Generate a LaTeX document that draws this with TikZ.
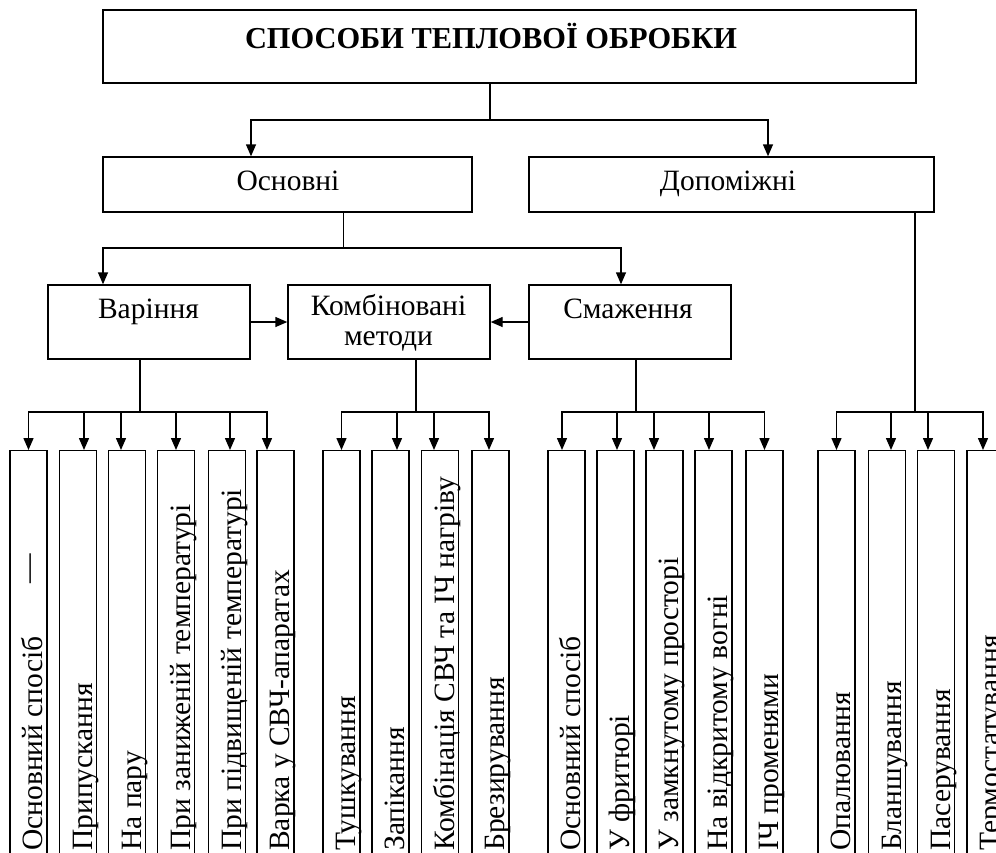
\documentclass[tikz,border=0pt]{standalone}
\usepackage{fontspec}
\setmainfont{Liberation Serif}
\newfontfamily\timesfont{Liberation Serif}
\usetikzlibrary{arrows.meta}
\begin{document}
\begin{tikzpicture}[x=1pt,y=-1pt,
  line width=1.4pt,
  box/.style={draw, line width=1.4pt, inner sep=0pt},
  arr/.style={-{Triangle[length=12pt,width=10pt]}},
  lbl/.style={font=\timesfont\fontsize{29.5}{34}\selectfont, inner sep=0pt, anchor=base},
  leaf/.style={box, minimum width=37pt, minimum height=420pt, anchor=north},
  leaftext/.style={font=\timesfont\fontsize{29.5}{34}\selectfont, inner sep=0pt, rotate=90, anchor=base west},
]
\useasboundingbox (0,0) rectangle (996,852);
\clip (0,0) rectangle (996,852);

% ---- upper levels ----
\node[box, minimum width=813pt, minimum height=73pt] (top) at (509.5,46.5) {};
\node[lbl, font=\timesfont\bfseries\fontsize{30.4}{36}\selectfont] (toptxt) at (491,48.5) {СПОСОБИ ТЕПЛОВОЇ ОБРОБКИ};

\node[box, minimum width=369pt, minimum height=55pt] (osn) at (287.5,184.5) {};
\node[lbl] (osntxt) at (288,190) {Основні};
\node[box, minimum width=405pt, minimum height=55pt] (dop) at (731.5,184.5) {};
\node[lbl] (doptxt) at (728,190) {Допоміжні};

\node[box, minimum width=202pt, minimum height=74pt] (var) at (149,322) {};
\node[lbl] (vartxt) at (148.5,318) {Варіння};
\node[box, minimum width=202pt, minimum height=74pt] (komb) at (389,322) {};
\node[lbl] (kombtxt1) at (388.5,315) {Комбіновані};
\node[lbl] (kombtxt2) at (388.5,345) {методи};
\node[box, minimum width=202pt, minimum height=74pt] (smaz) at (630,322) {};
\node[lbl] (smaztxt) at (628,318) {Смаження};

% ---- upper connectors ----
\coordinate (j0) at (490,120);
\draw (top.south -| j0) -- (j0);
\draw[arr] (j0) -| ([xshift=-36.5pt]osn.north);
\draw[arr] (j0) -| ([xshift=36.5pt]dop.north);

\coordinate (j1) at (343.5,248);
\draw (osn.south -| j1) -- (j1);
\draw[arr] (j1) -| ([xshift=-46pt]var.north);
\draw[arr] (j1) -| ([xshift=-9pt]smaz.north);

\draw[arr] (var.east) -- (komb.west);
\draw[arr] (smaz.west) -- (komb.east);

% ---- leaf boxes ----
\foreach \n/\x in {v1/28.5, v2/78, v3/127, v4/176, v5/227, v6/275.5,
                   k1/341.5, k2/390.5, k3/440, k4/490.5,
                   s1/566.5, s2/615.5, s3/664.5, s4/713.5, s5/764.5,
                   d1/836.5, d2/887, d3/936, d4/985.5}
  \node[leaf] (\n) at (\x,450) {};

% ---- leaf captions ----
\foreach \n/\t in {v2/Припускання, v3/На пару, v4/При заниженій температурі,
                   v5/При підвищеній температурі, v6/Варка у СВЧ-апаратах,
                   k1/Тушкування, k2/Запікання, k3/Комбінація СВЧ та ІЧ нагріву,
                   k4/Брезирування,
                   s1/Основний спосіб, s2/У фритюрі, s3/У замкнутому просторі,
                   s4/На відкритому вогні, s5/ІЧ променями,
                   d1/Опалювання, d2/Бланшування, d3/Пасерування,
                   d4/Термостатування}
  \path (\n.south east) ++(-5,-20) node[leaftext] {\t};
\path (v1.south east) ++(-5,-20) node[leaftext]
  {\makebox[297pt][l]{Основний спосіб\hfill\raisebox{5pt}{—}}};

% ---- leaf connectors ----
\coordinate (jv) at (140,412);
\draw (var.south -| jv) -- (jv);
\foreach \n/\d in {v1/0, v2/6, v3/-6, v4/0, v5/3, v6/-8.5}
  \draw[arr] (jv) -| ([xshift=\d pt]\n.north);

\coordinate (jk) at (416,412);
\draw (komb.south -| jk) -- (jk);
\foreach \n/\d in {k1/0, k2/6.5, k3/-6, k4/-1.5}
  \draw[arr] (jk) -| ([xshift=\d pt]\n.north);

\coordinate (js) at (636,412);
\draw (smaz.south -| js) -- (js);
\foreach \n/\d in {s1/-4.5, s2/1.5, s3/-10.5, s4/-4.5, s5/0}
  \draw[arr] (js) -| ([xshift=\d pt]\n.north);

\coordinate (jd) at (915,412);
\draw (dop.south -| jd) -- (jd);
\foreach \n/\d in {d1/0, d2/4, d3/-8, d4/-2.5}
  \draw[arr] (jd) -| ([xshift=\d pt]\n.north);
\end{tikzpicture}
\end{document}
